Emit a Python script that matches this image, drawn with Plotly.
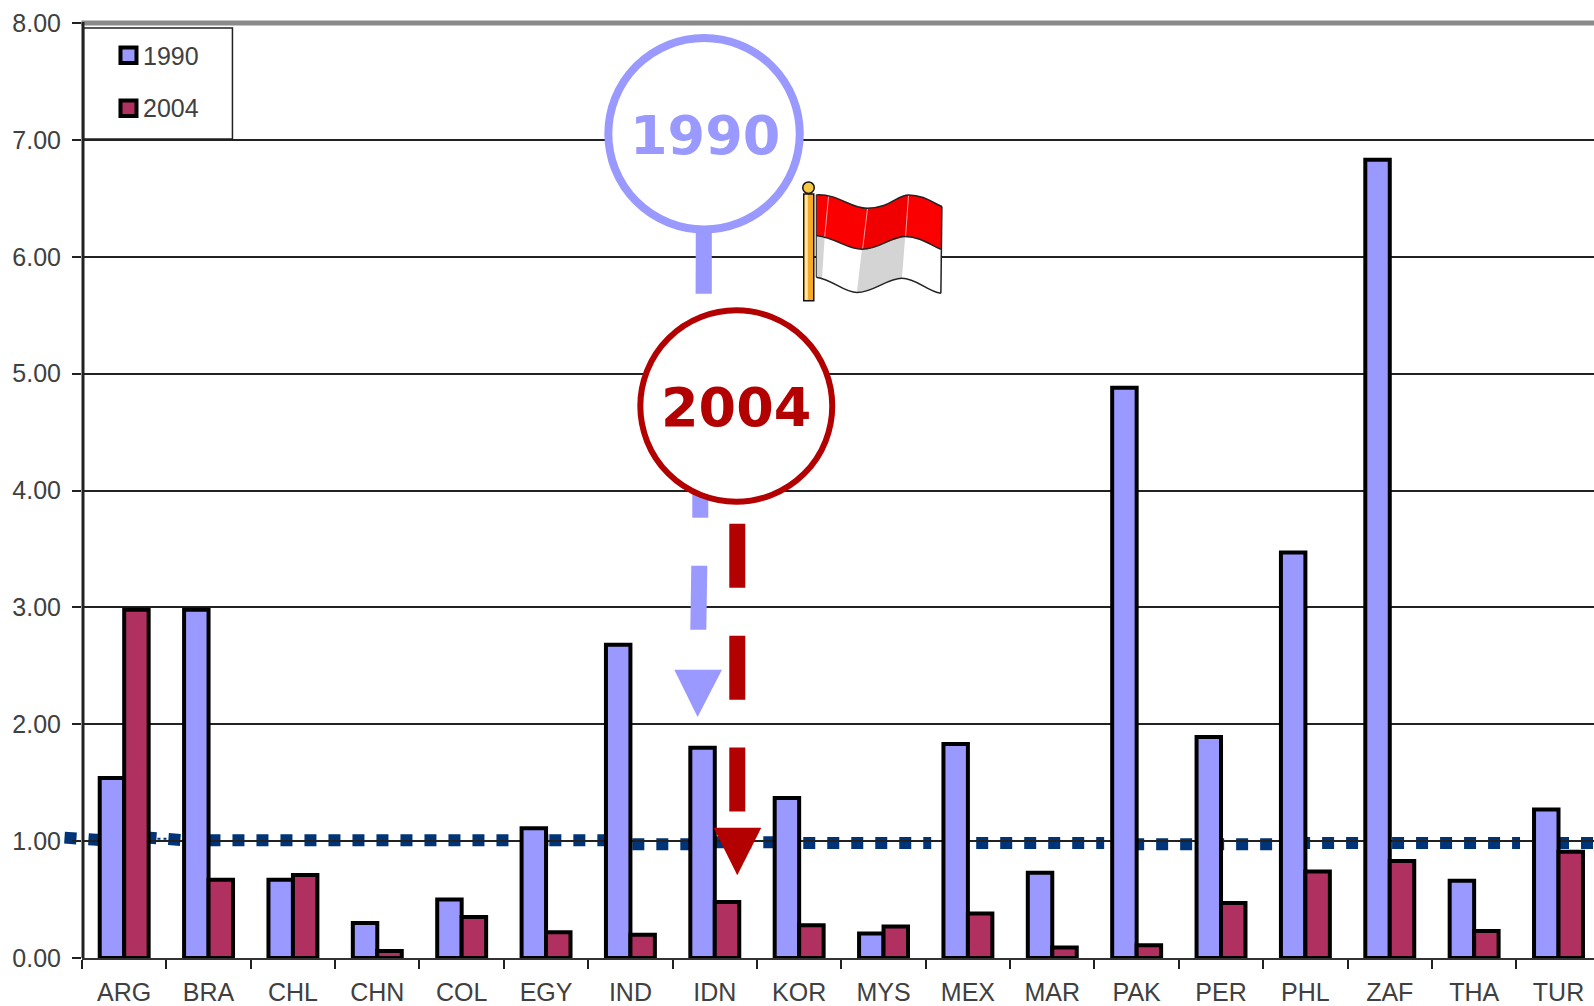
import plotly.graph_objects as go

# Country codes and the two yearly series
countries = ["ARG", "BRA", "CHL", "CHN", "COL", "EGY", "IND", "IDN", "KOR",
             "MYS", "MEX", "MAR", "PAK", "PER", "PHL", "ZAF", "THA", "TUR"]
values_1990 = [1.54, 2.98, 0.67, 0.30, 0.50, 1.11, 2.68, 1.80, 1.37,
               0.21, 1.83, 0.73, 4.88, 1.89, 3.47, 6.83, 0.66, 1.27]
values_2004 = [2.98, 0.67, 0.71, 0.06, 0.35, 0.22, 0.20, 0.48, 0.28,
               0.27, 0.38, 0.09, 0.11, 0.47, 0.74, 0.83, 0.23, 0.91]

# Hand-drawn parity line: level of each run, left to right
parity_levels = [(1.030, 1.010), (1.033, 1.010), (1.008, 1.008), (1.008, 1.008),
                 (0.974, 0.974), (0.991, 0.991), (0.983, 0.983), (0.983, 0.983),
                 (0.974, 0.974), (0.974, 0.974), (0.983, 0.983), (0.983, 0.983),
                 (0.983, 0.983)]
parity_spans = [(64, 100), (144, 180), (208, 548), (549, 610), (632, 700),
                (715, 775), (803, 931), (976, 1104), (1132, 1193), (1212, 1272),
                (1298, 1358), (1392, 1520), (1557, 1594)]

W, H = 1594, 1006
LEFT, TOP, BOTTOM = 81.5, 23, 47.5
CAT_W = 84.4
PERIWINKLE = "#9999ff"
PLUM = "#b03060"
CRIMSON = "#b30000"
NAVY = "#003478"
TEXT = "#404040"
SANS = "Liberation Sans"
BOLD = "DejaVu Sans"


def px(x):
    return (x - LEFT) / (W - LEFT)


def py(y):
    return 1 - (y - TOP) / (H - TOP - BOTTOM)


def box(kind, x0, y0, x1, y1, **style):
    return dict(type=kind, xref="paper", yref="paper", layer="above",
                x0=px(x0), x1=px(x1), y0=py(y0), y1=py(y1), **style)


def poly(points, fill, line_color=None, line_width=0):
    d = "M" + "L".join(f"{px(x)},{py(y)}" for x, y in points) + "Z"
    return dict(type="path", xref="paper", yref="paper", layer="above", path=d,
                fillcolor=fill, line=dict(color=line_color or fill, width=line_width))


# Flag outline, in a local grid scaled by three around its corner
def fx(v):
    return 780 + v / 3


def fy(v):
    return 170 + v / 3


def wave(cmds, fill, line_color=None, line_width=0):
    parts = []
    for c in cmds:
        if isinstance(c, str):
            parts.append(c)
        else:
            parts.append(f"{px(fx(c[0]))},{py(fy(c[1]))}")
    line = dict(color=line_color, width=line_width) if line_color else dict(width=0)
    return dict(type="path", xref="paper", yref="paper", layer="above",
                path=" ".join(parts), fillcolor=fill, line=line)


TOP_EDGE = ["C", (170, 70), (210, 115), (260, 115), "C", (330, 115), (350, 75), (385, 75),
            "C", (430, 75), (460, 100), (485, 110)]
MID_EDGE_BACK = ["C", (450, 225), (420, 200), (375, 200), "C", (330, 200), (300, 238), (245, 238),
                 "C", (200, 238), (170, 205), (108, 197)]
MID_EDGE = ["C", (170, 205), (200, 238), (245, 238), "C", (300, 238), (330, 200), (375, 200),
            "C", (420, 200), (450, 225), (482, 238)]
LOW_EDGE_BACK = ["C", (440, 365), (410, 325), (365, 325), "C", (320, 325), (280, 368), (230, 368),
                 "C", (190, 368), (160, 330), (108, 322)]
FOLD_BOTTOM = ["C", (320, 325), (280, 368), (230, 368)]
NOFILL = "rgba(0,0,0,0)"
INK = "#222222"

shapes = []

# Parity line sits beneath the bars
for (x0, x1), (v0, v1) in zip(parity_spans, parity_levels):
    shapes.append(dict(type="line", xref="paper", yref="y", layer="below",
                       x0=px(x0), x1=px(x1), y0=v0, y1=v1,
                       line=dict(color=NAVY, width=12, dash="12px,12px")))
shapes.append(dict(type="line", xref="paper", yref="y", layer="below",
                   x0=px(157), x1=px(168), y0=1.02, y1=1.02,
                   line=dict(color=NAVY, width=2, dash="dot")))

# Heavy rule along the top of the plot
shapes.append(box("line", 81, 23, W, 23, line=dict(color="#8a8a8a", width=5)))

# Legend frame and swatches
shapes.append(box("rect", 83, 28, 232, 139, fillcolor="white",
                  line=dict(color="#222222", width=1.5)))
shapes.append(box("rect", 120, 47.5, 136, 63, fillcolor=PERIWINKLE,
                  line=dict(color="black", width=4)))
shapes.append(box("rect", 120, 100.5, 136, 116, fillcolor=PLUM,
                  line=dict(color="black", width=4)))

# Value axis spine, drawn over the frame edge
shapes.append(box("line", 82.5, 22, 82.5, 958.5, line=dict(color="#222222", width=3)))

# 1990 callout: dashed leader and arrow head
shapes.append(poly([(695.5, 228), (711.5, 228), (711.5, 294), (695.3, 294)], PERIWINKLE))
shapes.append(poly([(692, 490), (708, 490), (708, 518), (692, 518)], PERIWINKLE))
shapes.append(poly([(691, 566), (707, 566), (706, 630), (690, 630)], PERIWINKLE))
shapes.append(poly([(674, 670), (721.7, 670), (697.3, 717.3)], PERIWINKLE))
shapes.append(box("circle", 608, 38, 799.5, 229.5, fillcolor="white",
                  line=dict(color=PERIWINKLE, width=8)))

# 2004 callout
for y0, y1 in [(524, 588), (636, 700), (748, 812)]:
    shapes.append(poly([(729, y0), (745, y0), (745, y1), (729, y1)], CRIMSON))
shapes.append(poly([(713.3, 828.3), (761, 828.3), (737, 875.7)], CRIMSON))
shapes.append(box("circle", 640, 310.5, 832, 502, fillcolor="white",
                  line=dict(color=CRIMSON, width=6)))

# Flag: white lower band, shaded folds, red upper band, then the pole
shapes.append(wave(["M", (108, 197)] + MID_EDGE + ["L", (482, 370)] + LOW_EDGE_BACK + ["Z"], "white"))
shapes.append(poly([(fx(108), fy(197)), (fx(133), fy(205)), (fx(125), fy(330)), (fx(108), fy(322))], "#d4d4d4"))
shapes.append(wave(["M", (245, 238), "L", (375, 200), "L", (365, 325)] + FOLD_BOTTOM + ["Z"], "#d4d4d4"))
shapes.append(wave(["M", (108, 75)] + TOP_EDGE + ["L", (482, 238)] + MID_EDGE_BACK + ["Z"], "#fb0000"))
shapes.append(wave(["M", (260, 115), "L", (245, 238), "L", (375, 200), "L", (385, 75),
                    "C", (350, 75), (330, 115), (260, 115), "Z"], "#f00000"))
for top, low in [((145, 78), (133, 205)), ((262, 115), (247, 238)), ((385, 75), (376, 200))]:
    shapes.append(wave(["M", top, "L", low], NOFILL, "#ff9a9a", 1))
shapes.append(wave(["M", (108, 75)] + TOP_EDGE, NOFILL, INK, 1.5))
shapes.append(wave(["M", (108, 197)] + MID_EDGE, NOFILL, INK, 1.5))
shapes.append(wave(["M", (482, 370)] + LOW_EDGE_BACK, NOFILL, INK, 1.5))
shapes.append(wave(["M", (485, 110), "L", (482, 370)], NOFILL, INK, 1.5))
shapes.append(wave(["M", (108, 75), "L", (108, 322)], NOFILL, INK, 1))
shapes.append(box("rect", 803.5, 194, 813.5, 301, fillcolor="#f7a92a",
                  line=dict(color="#111111", width=1.5)))
shapes.append(box("rect", 804.5, 195, 807.5, 300, fillcolor="#ffe9a0", line=dict(width=0)))
shapes.append(box("circle", 802.5, 182, 814, 193.5, fillcolor="#f8c840",
                  line=dict(color="#111111", width=1.5)))

annotations = [
    dict(text="1990", xref="paper", yref="paper", x=px(141), y=py(56.5), xanchor="left",
         yanchor="middle", showarrow=False, font=dict(family=SANS, size=25, color=TEXT)),
    dict(text="2004", xref="paper", yref="paper", x=px(141), y=py(108.5), xanchor="left",
         yanchor="middle", showarrow=False, font=dict(family=SANS, size=25, color=TEXT)),
    dict(text="<b>1990</b>", xref="paper", yref="paper", x=px(704.5), y=py(136), xanchor="center",
         yanchor="middle", showarrow=False, font=dict(family=BOLD, size=54, color=PERIWINKLE)),
    dict(text="<b>2004</b>", xref="paper", yref="paper", x=px(736), y=py(407.5), xanchor="center",
         yanchor="middle", showarrow=False, font=dict(family=BOLD, size=54, color=CRIMSON)),
]

fig = go.Figure()
for name, vals, color in [("1990", values_1990, PERIWINKLE), ("2004", values_2004, PLUM)]:
    fig.add_trace(go.Bar(name=name, x=countries, y=vals,
                         marker=dict(color=color, line=dict(color="black", width=4))))

fig.update_layout(
    width=W, height=H, autosize=False,
    margin=dict(l=LEFT, r=0, t=TOP, b=BOTTOM, pad=0),
    paper_bgcolor="white", plot_bgcolor="white",
    barmode="group", bargap=0.42, bargroupgap=0,
    showlegend=False, shapes=shapes, annotations=annotations,
    font=dict(family=SANS, size=25, color=TEXT),
    xaxis=dict(type="category", range=[-0.5, -0.5 + (W - LEFT) / CAT_W], tickson="boundaries",
               ticks="outside", ticklen=9, tickwidth=2, tickcolor="#222222",
               showline=True, linecolor="#333333", linewidth=2, showgrid=False,
               ticklabelstandoff=11, tickfont=dict(family=SANS, size=25, color=TEXT)),
    yaxis=dict(range=[0, 8], dtick=1, tickformat=".2f", ticks="outside", ticklen=9, tickwidth=2,
               tickcolor="#222222", showline=False,
               showgrid=True, gridcolor="#222222", gridwidth=1.5, zeroline=False,
               ticklabelstandoff=6, tickfont=dict(family=SANS, size=25, color=TEXT)),
)

fig.write_html("out.html")
